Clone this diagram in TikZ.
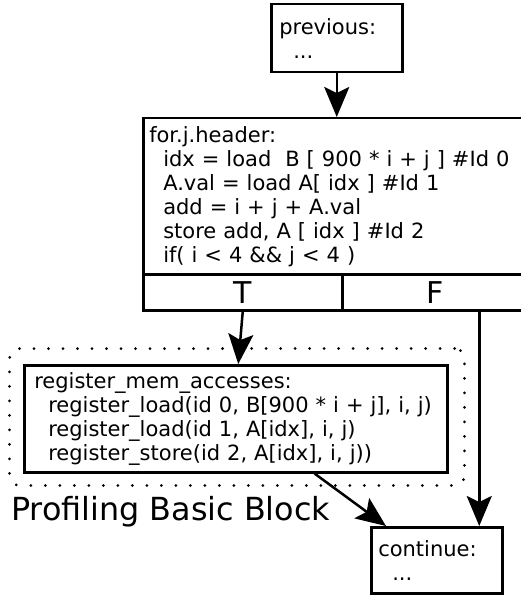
\documentclass[tikz,border=0pt]{standalone}
\usepackage{fontspec}
\setmainfont{DejaVu Sans}
\usetikzlibrary{arrows.meta}
\tikzset{
  blk/.style={draw, line width=2.5pt, anchor=north west, align=left,
    inner xsep=7pt, inner ysep=0pt, font=\fontsize{21}{24}\selectfont},
  cell/.style={draw, line width=2.5pt, anchor=north west, inner sep=0pt,
    font=\fontsize{30}{32}\selectfont},
  grp/.style={draw, line width=3pt, anchor=north west, rounded corners=10pt,
    dash pattern=on 0pt off 14.5pt, line cap=round},
  arr/.style={-{Stealth[length=30pt,width=25pt,inset=6pt]}, line width=2.5pt},
}
\newcommand{\ind}{\hspace*{14pt}}
\begin{document}
\begin{tikzpicture}[x=1pt,y=-1pt]
      \useasboundingbox (0,0) rectangle (521,599);
      \draw
        (270,3) node[blk, text width=115pt, inner xsep=8pt, minimum height=68pt] (prev)
          {previous:\\\ind...}
        (142,117) node[blk, text width=372pt, inner xsep=6pt, minimum height=156pt] (hdr)
          {for.j.header:\\
           \ind idx = load\ \ B [ 900 * i + j ] \#Id 0\\
           \ind A.val = load A[ idx ] \#Id 1\\
           \ind add = i + j + A.val\\
           \ind store add, A [ idx ] \#Id 2\\
           \ind if( i < 4 \&\& j < 4 )}
        (142,273) node[cell, minimum width=199pt, minimum height=36pt] (t) {T}
        (341,273) node[cell, minimum width=185pt, minimum height=36pt] (f) {F}
        (8,347) node[grp, minimum width=455pt, minimum height=137pt] (grp) {}
        (23,364) node[blk, text width=403pt, inner xsep=10pt, minimum height=107pt] (reg)
          {register\_mem\_accesses:\\
           \ind register\_load(id 0, B[900 * i + j], i, j)\\
           \ind register\_load(id 1, A[idx], i, j)\\
           \ind register\_store(id 2, A[idx], i, j))}
        (11,520) node[anchor=base west, inner sep=0pt, font=\fontsize{31.8}{36}\selectfont] (lbl)
          {Profiling Basic Block}
        (370,526) node[blk, text width=117pt, inner xsep=7pt, minimum height=66pt] (cont)
          {continue:\\\ind...};
      \begin{scope}[arr]
        \draw (prev.south) to (prev.south |- hdr.north);
        \draw (t.south) to ([xshift=2.5pt]reg.north);
        \draw ([xshift=44.5pt]f.south) to ([xshift=44.5pt]f.south |- cont.north);
        \draw ([xshift=-134pt]reg.south east) to ([xshift=16pt]cont.north west);
      \end{scope}
    \end{tikzpicture}
\end{document}
